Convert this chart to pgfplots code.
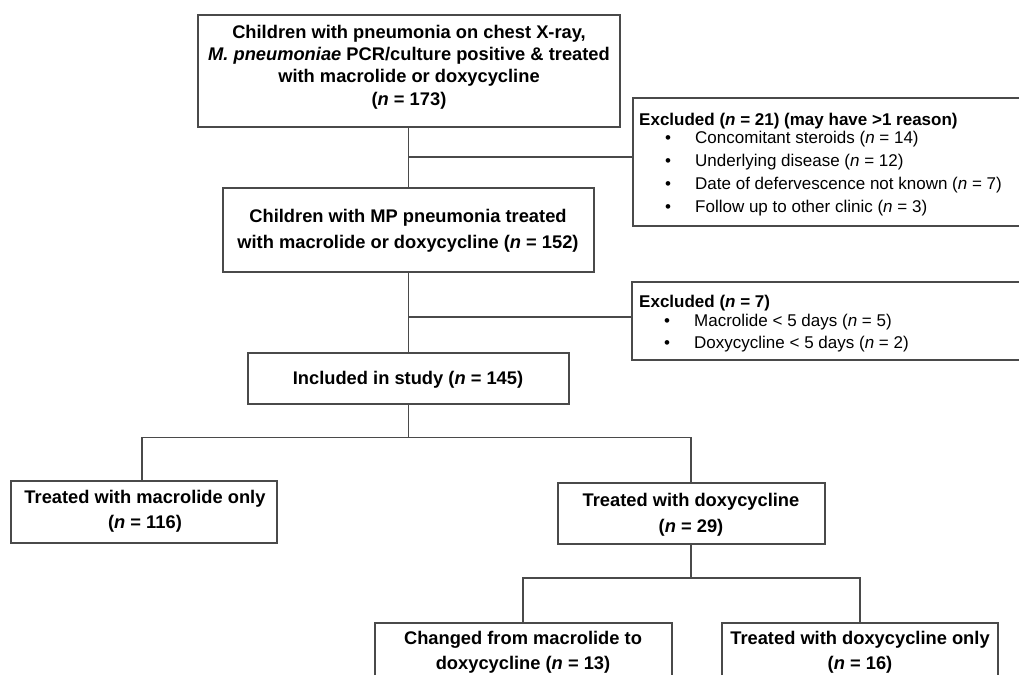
\documentclass[border=0pt]{standalone}
\usepackage{pgfplots}
\pgfplotsset{compat=1.18}
\usepackage{fontspec}
\setmainfont{Liberation Sans}
\definecolor{ln}{HTML}{4A4A4A}
\begin{document}
\begin{tikzpicture}
\begin{axis}[width=1019pt,height=675pt,scale only axis,
  xmin=0,xmax=1019,ymin=0,ymax=675,y dir=reverse,hide axis,clip=false]
\tikzset{fl/.style={color=ln,line width=1.4pt,mark=none,solid,line join=miter}}
% boxes
\addplot[fl] coordinates {(198,15)(620,15)(620,127)(198,127)} --cycle;
\addplot[fl] coordinates {(223,188)(594,188)(594,272)(223,272)} --cycle;
\addplot[fl] coordinates {(248,353)(569,353)(569,404)(248,404)} --cycle;
\addplot[fl] coordinates {(11,481)(277,481)(277,543)(11,543)} --cycle;
\addplot[fl] coordinates {(558,483)(825,483)(825,544)(558,544)} --cycle;
\addplot[fl] coordinates {(1019,98)(633,98)(633,226)(1019,226)};
\addplot[fl] coordinates {(1019,282)(632,282)(632,360)(1019,360)};
\addplot[fl] coordinates {(375,675)(375,623)(672,623)(672,675)};
\addplot[fl] coordinates {(722,675)(722,623)(998,623)(998,675)};
% connectors
\addplot[fl] coordinates {(408.5,127)(408.5,188)};
\addplot[fl] coordinates {(408.5,157)(633,157)};
\addplot[fl] coordinates {(408.5,272)(408.5,353)};
\addplot[fl] coordinates {(408.5,317)(632,317)};
\addplot[fl] coordinates {(408.5,404)(408.5,437.5)};
\addplot[fl] coordinates {(142,481)(142,437.5)(691,437.5)(691,483)};
\addplot[fl] coordinates {(691,544)(691,578)};
\addplot[fl] coordinates {(523,623)(523,578)(860,578)(860,623)};
% texts
\tikzset{bt/.style={anchor=base,inner sep=0pt,font=\fontsize{18.3pt}{22pt}\selectfont\bfseries},
         lt/.style={anchor=base west,inner sep=0pt,font=\fontsize{17pt}{20pt}\selectfont},
         lb/.style={anchor=base west,inner sep=0pt,font=\fontsize{17pt}{20pt}\selectfont\bfseries}}
\node[bt] at (axis cs:409,38) {Children with pneumonia on chest X-ray,};
\node[bt] at (axis cs:409,60) {\textit{M. pneumoniae}\/ PCR/culture positive \& treated};
\node[bt] at (axis cs:409,82) {with macrolide or doxycycline};
\node[bt] at (axis cs:409,105) {(\textit{n} = 173)};
\node[bt] at (axis cs:408,222) {Children with MP pneumonia treated};
\node[bt] at (axis cs:408,248) {with macrolide or doxycycline (\textit{n} = 152)};
\node[bt] at (axis cs:408,384) {Included in study (\textit{n} = 145)};
\node[bt] at (axis cs:145,503) {Treated with macrolide only};
\node[bt] at (axis cs:145,528) {(\textit{n} = 116)};
\node[bt] at (axis cs:691,506) {Treated with doxycycline};
\node[bt] at (axis cs:691,532) {(\textit{n} = 29)};
\node[bt] at (axis cs:523,644) {Changed from macrolide to};
\node[bt] at (axis cs:523,669) {doxycycline (\textit{n} = 13)};
\node[bt] at (axis cs:860,644) {Treated with doxycycline only};
\node[bt] at (axis cs:860,669) {(\textit{n} = 16)};
% exclusion 1
\node[lb] at (axis cs:639,125) {Excluded (\textit{n} = 21) (may have >1 reason)};
\node[lt] at (axis cs:665,143) {•};
\node[lt] at (axis cs:695,143) {Concomitant steroids (\textit{n} = 14)};
\node[lt] at (axis cs:665,166) {•};
\node[lt] at (axis cs:695,166) {Underlying disease (\textit{n} = 12)};
\node[lt] at (axis cs:665,189) {•};
\node[lt] at (axis cs:695,189) {Date of defervescence not known (\textit{n} = 7)};
\node[lt] at (axis cs:665,212) {•};
\node[lt] at (axis cs:695,212) {Follow up to other clinic (\textit{n} = 3)};
% exclusion 2
\node[lb] at (axis cs:639,307) {Excluded (\textit{n} = 7)};
\node[lt] at (axis cs:664,326) {•};
\node[lt] at (axis cs:694,326) {Macrolide < 5 days (\textit{n} = 5)};
\node[lt] at (axis cs:664,348) {•};
\node[lt] at (axis cs:694,348) {Doxycycline < 5 days (\textit{n} = 2)};
\end{axis}
\pgfresetboundingbox
\path (0,0) rectangle (1019pt,675pt);
\end{tikzpicture}
\end{document}
